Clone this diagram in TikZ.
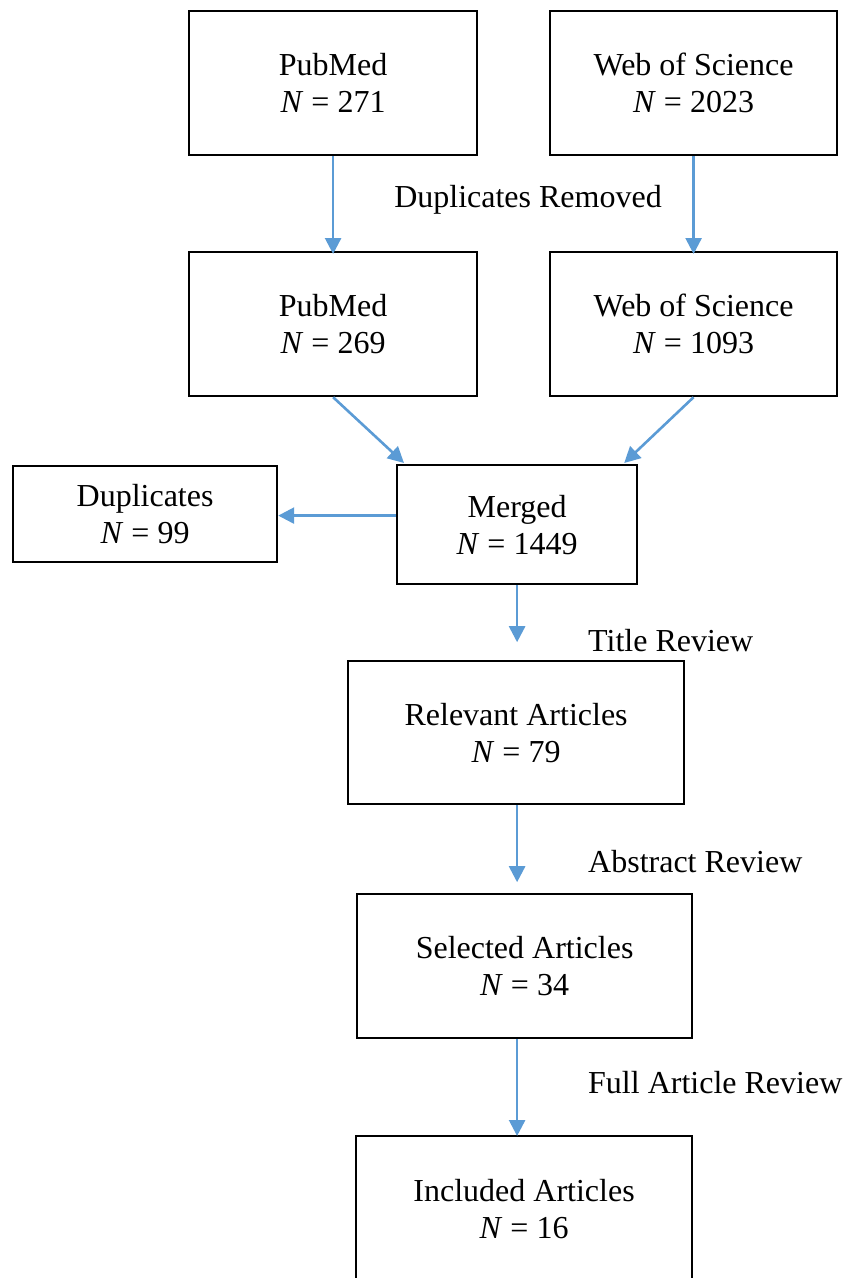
\documentclass[tikz,border=0pt]{standalone}
\usepackage{fontspec}
\setmainfont{Liberation Serif}
\usetikzlibrary{arrows.meta}
\definecolor{arrowblue}{RGB}{91,155,213}
\tikzset{
  box/.style={draw=black, line width=2.2pt, align=center, inner sep=0pt,
    font=\fontsize{32}{37}\selectfont, anchor=north west},
  flow/.style={draw=arrowblue, line width=2.6pt,
    -{Triangle[length=16pt,width=16pt]}},
  lbl/.style={font=\fontsize{32}{37}\selectfont, inner sep=0pt},
}
\begin{document}
\begin{tikzpicture}[x=1pt,y=1pt]
\useasboundingbox (0,0) rectangle (844,-1278);
\clip (0,0) rectangle (844,-1278);
\node[box, minimum width=288pt, minimum height=144pt] (pm1) at (188,-10) {PubMed\\\textit{N} = 271};
\node[box, minimum width=287pt, minimum height=144pt] (ws1) at (549,-10) {Web of Science\\\textit{N} = 2023};
\node[box, minimum width=288pt, minimum height=144pt] (pm2) at (188,-251) {PubMed\\\textit{N} = 269};
\node[box, minimum width=287pt, minimum height=144pt] (ws2) at (549,-251) {Web of Science\\\textit{N} = 1093};
\node[box, minimum width=240pt, minimum height=119pt] (mg) at (396,-464) {Merged\\\textit{N} = 1449};
\node[box, minimum width=264pt, minimum height=96pt] (dup) at (12,-465) {Duplicates\\\textit{N} = 99};
\node[box, minimum width=336pt, minimum height=143pt] (rel) at (347,-660) {Relevant Articles\\\textit{N} = 79};
\node[box, minimum width=335pt, minimum height=144pt] (sel) at (356,-893) {Selected Articles\\\textit{N} = 34};
\node[box, minimum width=336pt, minimum height=146pt] (inc) at (355,-1135) {Included Articles\\\textit{N} = 16};

\node[lbl] (ldup) at (528,-200) {Duplicates Removed};
\node[lbl, anchor=west] (ltit) at (588,-641) {Title Review};
\node[lbl, anchor=west] (labs) at (588,-862) {Abstract Review};
\node[lbl, anchor=west] (lful) at (588,-1083) {Full Article Review};

\coordinate (mgx) at (mg.south);
\coordinate (relb) at (mgx |- rel.south);
\coordinate (selb) at (mgx |- sel.south);
\coordinate (inct) at ([yshift=-1pt]mgx |- inc.north);
\coordinate (mgw) at ([yshift=9pt]mg.west);

\draw[flow] (pm1.south) -- ([yshift=-3pt]pm2.north);
\draw[flow] (ws1.south) -- ([yshift=-3pt]ws2.north);
\draw[flow] (pm2.south) -- ([shift={(8pt,1pt)}]mg.north west);
\draw[flow] (ws2.south) -- ([shift={(-14pt,1pt)}]mg.north east);
\draw[flow] (mgw) -- (mgw -| dup.east);
\draw[flow] (mg.south) -- ++(0,-57pt) coordinate (a1);
\draw[flow] (relb) -- ++(0,-77pt) coordinate (a2);
\draw[flow] (selb) -- (inct);
\end{tikzpicture}
\end{document}
